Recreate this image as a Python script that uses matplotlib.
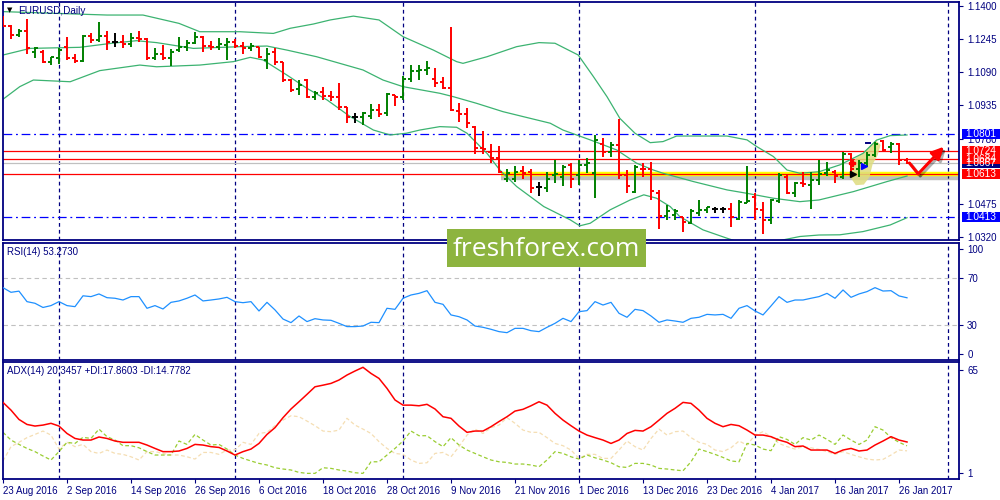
import matplotlib
matplotlib.use("Agg")
import matplotlib.pyplot as plt
import matplotlib.patheffects as pe
import matplotlib.transforms as mtransforms
from matplotlib.patches import Rectangle, Polygon
import numpy as np

plt.rcParams['font.family'] = ['Liberation Sans', 'DejaVu Sans']

# -----------------------------
# EURUSD daily bars (23 Aug 2016 .. 27 Jan 2017)
# -----------------------------
opens = [1.1340, 1.1306, 1.1264, 1.1285, 1.1186, 1.1186, 1.1139, 1.1155, 1.1210, 1.1155,
         1.1143, 1.1260, 1.1241, 1.1260, 1.1233, 1.1233, 1.1222, 1.1249, 1.1244, 1.1155,
         1.1175, 1.1155, 1.1194, 1.1207, 1.1228, 1.1253, 1.1213, 1.1210, 1.1217, 1.1233,
         1.1213, 1.1202, 1.1207, 1.1150, 1.1186, 1.1136, 1.1054, 1.1010, 1.1054, 1.0976,
         1.0999, 1.0979, 1.0976, 1.0926, 1.0879, 1.0879, 1.0885, 1.0913, 1.0898, 1.0983,
         1.0973, 1.1057, 1.1097, 1.1101, 1.1061, 1.1046, 1.1019, 1.0909, 1.0893, 1.0835,
         1.0737, 1.0718, 1.0687, 1.0593, 1.0593, 1.0628, 1.0625, 1.0555, 1.0547, 1.0609,
         1.0601, 1.0656, 1.0609, 1.0656, 1.0620, 1.0757, 1.0718, 1.0752, 1.0609, 1.0531,
         1.0640, 1.0640, 1.0527, 1.0418, 1.0423, 1.0412, 1.0386, 1.0431, 1.0446, 1.0449,
         1.0449, 1.0449, 1.0406, 1.0481, 1.0505, 1.0446, 1.0397, 1.0489, 1.0601, 1.0527,
         1.0573, 1.0563, 1.0587, 1.0617, 1.0625, 1.0601, 1.0710, 1.0640, 1.0664, 1.0703,
         1.0770, 1.0742, 1.0754, 1.0679]
highs = [1.1353, 1.1311, 1.1295, 1.1338, 1.1210, 1.1194, 1.1163, 1.1202, 1.1253, 1.1178,
         1.1264, 1.1272, 1.1327, 1.1283, 1.1272, 1.1264, 1.1275, 1.1283, 1.1252, 1.1202,
         1.1217, 1.1197, 1.1257, 1.1241, 1.1280, 1.1260, 1.1238, 1.1249, 1.1249, 1.1244,
         1.1233, 1.1225, 1.1210, 1.1202, 1.1202, 1.1139, 1.1061, 1.1054, 1.1057, 1.1004,
         1.1022, 1.1004, 1.1041, 1.0929, 1.0898, 1.0905, 1.0944, 1.0940, 1.0991, 1.0983,
         1.1072, 1.1124, 1.1124, 1.1143, 1.1108, 1.1069, 1.1303, 1.0948, 1.0924, 1.0838,
         1.0815, 1.0757, 1.0746, 1.0640, 1.0653, 1.0653, 1.0637, 1.0578, 1.0625, 1.0681,
         1.0656, 1.0664, 1.0681, 1.0687, 1.0796, 1.0784, 1.0765, 1.0874, 1.0632, 1.0656,
         1.0664, 1.0671, 1.0539, 1.0470, 1.0450, 1.0415, 1.0453, 1.0495, 1.0461, 1.0461,
         1.0461, 1.0480, 1.0492, 1.0653, 1.0524, 1.0484, 1.0497, 1.0617, 1.0614, 1.0578,
         1.0625, 1.0625, 1.0679, 1.0671, 1.0632, 1.0718, 1.0714, 1.0679, 1.0718, 1.0765,
         1.0773, 1.0765, 1.0760, 1.0687]
lows = [1.1303, 1.1244, 1.1257, 1.1178, 1.1155, 1.1132, 1.1124, 1.1129, 1.1150, 1.1135,
        1.1139, 1.1225, 1.1233, 1.1194, 1.1210, 1.1202, 1.1210, 1.1233, 1.1147, 1.1147,
        1.1147, 1.1119, 1.1186, 1.1191, 1.1221, 1.1186, 1.1194, 1.1194, 1.1147, 1.1202,
        1.1178, 1.1191, 1.1155, 1.1104, 1.1124, 1.1046, 1.0999, 1.0983, 1.0968, 1.0960,
        1.0960, 1.0955, 1.0913, 1.0854, 1.0854, 1.0843, 1.0874, 1.0879, 1.0885, 1.0932,
        1.0960, 1.1046, 1.1054, 1.1077, 1.1022, 1.1010, 1.0909, 1.0859, 1.0831, 1.0706,
        1.0710, 1.0664, 1.0617, 1.0578, 1.0578, 1.0590, 1.0524, 1.0512, 1.0531, 1.0570,
        1.0559, 1.0547, 1.0562, 1.0617, 1.0500, 1.0695, 1.0695, 1.0590, 1.0527, 1.0524,
        1.0602, 1.0492, 1.0359, 1.0400, 1.0400, 1.0345, 1.0380, 1.0418, 1.0431, 1.0431,
        1.0431, 1.0367, 1.0400, 1.0480, 1.0400, 1.0336, 1.0380, 1.0477, 1.0520, 1.0508,
        1.0555, 1.0449, 1.0562, 1.0604, 1.0573, 1.0593, 1.0601, 1.0601, 1.0648, 1.0695,
        1.0718, 1.0713, 1.0656, 1.0661]
closes = [1.1306, 1.1264, 1.1285, 1.1202, 1.1202, 1.1139, 1.1160, 1.1194, 1.1155, 1.1143,
          1.1260, 1.1241, 1.1260, 1.1233, 1.1233, 1.1222, 1.1249, 1.1244, 1.1155, 1.1175,
          1.1155, 1.1186, 1.1207, 1.1228, 1.1257, 1.1213, 1.1210, 1.1221, 1.1233, 1.1213,
          1.1202, 1.1213, 1.1163, 1.1178, 1.1139, 1.1054, 1.1007, 1.1030, 1.0973, 1.0991,
          1.0979, 1.0976, 1.0926, 1.0882, 1.0879, 1.0898, 1.0916, 1.0894, 1.0987, 1.0973,
          1.1057, 1.1097, 1.1101, 1.1108, 1.1041, 1.1019, 1.0913, 1.0893, 1.0851, 1.0737,
          1.0731, 1.0687, 1.0625, 1.0620, 1.0625, 1.0617, 1.0547, 1.0555, 1.0589, 1.0614,
          1.0648, 1.0589, 1.0656, 1.0667, 1.0773, 1.0718, 1.0749, 1.0609, 1.0558, 1.0648,
          1.0636, 1.0536, 1.0418, 1.0443, 1.0439, 1.0392, 1.0443, 1.0446, 1.0458, 1.0449,
          1.0449, 1.0415, 1.0484, 1.0487, 1.0449, 1.0400, 1.0492, 1.0609, 1.0527, 1.0570,
          1.0567, 1.0587, 1.0614, 1.0632, 1.0606, 1.0710, 1.0640, 1.0664, 1.0703, 1.0757,
          1.0726, 1.0754, 1.0679, 1.0667]

# Bollinger bands (20)
upper_x = [0, 13, 17.5, 22, 24.6, 29.6, 33.8, 35.9, 38.8, 40.9, 43.8, 47, 50, 53.8, 56.7,
           57.5, 60.5, 64.2, 67, 69, 71.9, 73.8, 75.5, 77.1, 79, 80.9, 82.5, 84.2, 90.5, 93,
           94.2, 96.3, 98, 99.6, 102, 104.6, 107.5, 109.2, 110.9, 113]
upper = [1.1374, 1.1358, 1.1358, 1.1319, 1.1280, 1.1280, 1.1272, 1.1296, 1.1316, 1.1335,
         1.1353, 1.1335, 1.1257, 1.1194, 1.1140, 1.1132, 1.1163, 1.1210, 1.1229, 1.1226,
         1.1171, 1.1070, 1.0976, 1.0875, 1.0805, 1.0761, 1.0766, 1.0792, 1.0792, 1.0774,
         1.0743, 1.0696, 1.0633, 1.0618, 1.0625, 1.0657, 1.0711, 1.0773, 1.0794, 1.0797]
mid_x = [0, 3.4, 9.6, 13.4, 16.7, 19.2, 23.8, 29.6, 33, 35.5, 39.2, 42.1, 45, 47.5, 50,
         54.6, 56.3, 59.2, 62.5, 65, 68.4, 70, 73.4, 76.7, 79.2, 81.3, 82.5, 86.3, 90.5,
         93, 96.3, 99.6, 102, 106.3, 110.5, 113]
mid = [1.1171, 1.1202, 1.1207, 1.1225, 1.1238, 1.1229, 1.1202, 1.1210, 1.1213, 1.1194,
       1.1163, 1.1132, 1.1101, 1.1054, 1.1023, 1.0992, 1.0976, 1.0945, 1.0906, 1.0883,
       1.0852, 1.0820, 1.0774, 1.0727, 1.0665, 1.0633, 1.0618, 1.0579, 1.0540, 1.0524,
       1.0501, 1.0485, 1.0493, 1.0532, 1.0579, 1.0605]
lower_x = [0, 2.1, 3.8, 8.4, 12.1, 17.1, 19.2, 24.6, 28.8, 30.9, 32.5, 35.5, 38, 40.5,
           43.4, 46.3, 48.4, 50.4, 52.1, 54.6, 56.7, 58, 60.5, 62.1, 64.2, 67.6, 70.9,
           72.1, 73.4, 75.9, 78.4, 80.1, 81.7, 83.4, 84.6, 87.5, 90.5, 93, 96.7, 99.6,
           102, 104.6, 107.5, 110.9, 113]
lower = [1.0964, 1.1023, 1.1054, 1.1046, 1.1098, 1.1124, 1.1116, 1.1124, 1.1140, 1.1160,
         1.1148, 1.1077, 1.1015, 1.0961, 1.0883, 1.0820, 1.0797, 1.0805, 1.0820, 1.0836,
         1.0833, 1.0805, 1.0711, 1.0633, 1.0556, 1.0462, 1.0400, 1.0372, 1.0384, 1.0447,
         1.0493, 1.0517, 1.0501, 1.0462, 1.0415, 1.0353, 1.0314, 1.0283, 1.0300, 1.0322,
         1.0329, 1.0330, 1.0345, 1.0376, 1.0410]

rsi = [62, 58, 59, 50, 48.6, 45, 46.6, 50, 46.6, 45.7, 55, 54.3, 56.6, 53.4, 52.9, 51.4,
       54.3, 54.3, 44.3, 46.6, 43.7, 49.4, 50.6, 52.9, 55.7, 50.6, 51.4, 52.3, 53.7, 50,
       49.1, 50, 42, 49.4, 42.9, 35.1, 32, 37.7, 32.9, 35.4, 34.3, 34, 31.4, 28.6, 28.6,
       29.1, 32.3, 32, 44.3, 43.4, 52.9, 55.7, 57.1, 59.4, 49.4, 47.7, 38.6, 37.1, 34.3,
       29.1, 28, 26.3, 24.3, 23.4, 27.1, 27.1, 25.1, 24.3, 28, 31.4, 35.7, 32.9, 41.4,
       42.3, 50, 47.1, 49.4, 40, 36.6, 43.4, 42.3, 37.7, 32.3, 34.3, 33.4, 32.3, 35.7,
       36.6, 39.1, 38.6, 39.1, 35.7, 44.3, 46.6, 42, 38.6, 46.3, 54.3, 49.4, 51.4, 51.4,
       52.9, 54.3, 57.1, 52.9, 60, 53.7, 56.6, 58.6, 62, 59.1, 59.4, 54.9, 53.3]

adx = [44.9, 40.1, 34.3, 31.2, 30.2, 30.8, 31.9, 30.2, 25.6, 22.5,
       21.5, 21.5, 23.4, 22.5, 20.9, 20.1, 20.1, 20.1, 18.4, 16.3,
       14.3, 14.3, 14.7, 16.3, 18.8, 18.4, 17.4, 16.9, 14.7, 12.2,
       14.3, 15.9, 19.4, 25, 29.2, 35.4, 40.8, 45.3, 49.9, 54.6,
       55.6, 56.7, 58.8, 61.9, 64.4, 66.7, 62.9, 59.8, 53.6, 46.4,
       43.2, 43.2, 42.8, 43.7, 40.8, 36, 35, 30.2, 26.3, 27.1,
       27.1, 29.8, 33, 36, 39.5, 40.6, 42.8, 45.3, 43.2, 38.1,
       33.9, 30.4, 27.1, 24.6, 23, 21.5, 19.4, 21.5, 25.6, 27.5,
       27.1, 29.8, 33.9, 38.1, 41.2, 44.9, 44.3, 40.1, 35, 31.9,
       29.8, 31.2, 30.4, 27.7, 24.6, 24.6, 23.6, 21.5, 20.1, 17.4,
       17.8, 15.3, 15.3, 15.3, 13.2, 15.3, 16.3, 14.7, 15.3, 18.4,
       20.9, 23.6, 21.5, 20.3]
plus_di = [26.3, 21.5, 18.8, 16.3, 14.3, 11.6, 9.1, 14.3, 20.1, 19.4,
           23.2, 22.5, 28.3, 23.6, 21.5, 18, 18, 16.7, 14.3, 12.2,
           12.2, 12.2, 20.9, 18.8, 25, 21.5, 18.4, 18.8, 15.9, 12.2,
           10.1, 8.5, 7, 6, 4.3, 3.5, 2.9, 1.4, 0.8, 0.8,
           4.3, 3.9, 2.9, 2.2, 1.2, 0.8, 8, 8, 12.2, 16.3,
           20.9, 27.1, 24.2, 24.2, 20.5, 17.4, 23, 18.4, 15.3, 13.2,
           11.1, 9.1, 8, 7.6, 6.6, 6.6, 6, 4.9, 9.1, 14.3,
           13.2, 11.1, 9.7, 12.2, 10.5, 9.1, 7.4, 4.9, 4.5, 7,
           7, 6, 3.9, 3.5, 2.9, 2.4, 8, 15.9, 14.3, 12.6,
           10.7, 8.5, 8, 19.4, 18.4, 15.9, 14.9, 23.6, 21.9, 18.8,
           23, 21.5, 24.6, 21.9, 18.8, 24.6, 21.5, 18.8, 21.5, 29.8,
           27.7, 23, 20.1, 17.9]
minus_di = [8.5, 17.4, 20.1, 23, 25, 27.1, 24.6, 15.9, 20.1, 17.4,
            18.8, 14.3, 13.2, 15.3, 13.2, 12.6, 11.1, 9.1, 14.3, 14.3,
            13.2, 12.2, 12.2, 11.1, 9.7, 13.8, 13.8, 12.6, 15.3, 15.3,
            20.1, 18.8, 25.6, 26.3, 30.4, 33.9, 36.6, 36, 33.3, 30.4,
            27.1, 26.7, 27.7, 35, 30.8, 28.3, 25.6, 20.5, 16.3, 13.2,
            12.6, 9.1, 7, 7.4, 13.2, 13.8, 11.1, 17.4, 24.6, 28.3,
            25.6, 29.2, 30.8, 35.4, 31.9, 27.7, 26.3, 26.3, 23, 19.4,
            18, 15.3, 10.1, 12.6, 12.6, 10.1, 10.1, 15.3, 20.9, 17.4,
            15.3, 22.5, 28.3, 24.6, 26.7, 27.1, 23, 20.1, 18.8, 15.3,
            14.3, 16.7, 20.9, 18.4, 24.6, 26.7, 23.6, 19.4, 17.4, 15.9,
            17.4, 16.7, 15.7, 14.3, 12.6, 14.3, 12.6, 11.1, 9.7, 9.1,
            9.5, 12.2, 15.3, 14.8]

date_labels = ['23 Aug 2016', '2 Sep 2016', '14 Sep 2016', '26 Sep 2016', '6 Oct 2016',
               '18 Oct 2016', '28 Oct 2016', '9 Nov 2016', '21 Nov 2016', '1 Dec 2016',
               '13 Dec 2016', '23 Dec 2016', '4 Jan 2017', '16 Jan 2017', '26 Jan 2017']
date_idx = list(range(0, 113, 8))
month_starts = [7, 29, 50, 72, 94, 118.1]

price_ticks = [1.1400, 1.1245, 1.1090, 1.0935, 1.0780, 1.0475, 1.0320]
# horizontal levels
levels_red = [1.0724, 1.0684, 1.0613]
levels_blue = [1.0801, 1.0413]
bid = 1.0667
level_boxes = [(1.0801, '#0000ff'), (1.0413, '#0000ff'), (1.0667, '#000080'),
               (1.0724, '#ff0000'), (1.0684, '#ff0000'), (1.0613, '#ff0000')]

NAVY = '#000080'
W, H = 1000, 500

def rect(l, t, r, b):
    return [l / W, 1 - b / H, (r - l) / W, (b - t) / H]

fig = plt.figure(figsize=(10, 5), dpi=100)
ax = fig.add_axes(rect(2.5, 2, 959.5, 239.5))
ax_rsi = fig.add_axes(rect(2.5, 242.5, 959.5, 359.5))
ax_adx = fig.add_axes(rect(2.5, 362, 959.5, 479))

x = np.arange(len(closes))
xlim = (-0.06, 119.56)

for a in (ax, ax_rsi, ax_adx):
    a.set_xlim(*xlim)
    for s in a.spines.values():
        s.set_color(NAVY)
        s.set_linewidth(1.3)
    a.yaxis.tick_right()
    a.tick_params(axis='y', colors=NAVY, labelsize=7, length=3, width=0.8, pad=2.5,
                  labelcolor=NAVY)
    for m in month_starts:
        a.axvline(m, color=NAVY, lw=0.9, ls=(0, (3, 2.5)), zorder=1)

# -----------------------------
# PRICE PANEL
# -----------------------------
ax.set_ylim(1.0308, 1.1419)
ax.set_xticks([])
ax.set_yticks(price_ticks)
ax.set_yticklabels([f'{p:.4f}' for p in price_ticks])

ax.plot(upper_x, upper, color='#3cb371', lw=0.9, zorder=2)
ax.plot(mid_x, mid, color='#3cb371', lw=0.9, zorder=2)
ax.plot(lower_x, lower, color='#3cb371', lw=0.9, zorder=2)

for p in levels_blue:
    ax.axhline(p, color='#0000ff', lw=0.9, ls=(0, (7, 3, 1.5, 3)), zorder=1)
ax.axhline(bid, color='#c0c0c0', lw=0.9, zorder=1)
# yellow highlight on the support
ax.plot([62.2, xlim[1]], [levels_red[2]] * 2, color='#ffff00', lw=3.2, zorder=1.5,
        solid_capstyle='butt',
        path_effects=[pe.SimpleLineShadow(offset=(0, -2.5), shadow_color='black', alpha=0.25),
                      pe.Normal()])
for p in levels_red:
    ax.axhline(p, color='#ff0000', lw=0.9, zorder=1.6)

# highlighted blob around the entry
blob = [(105.9, 1.0600), (106.0, 1.0650), (106.6, 1.0690), (107.5, 1.0712), (108.3, 1.0745),
        (109.1, 1.0772), (109.7, 1.0750), (109.3, 1.0700), (108.7, 1.0660), (108.3, 1.0600),
        (107.6, 1.0565), (106.6, 1.0562)]
ax.add_patch(Polygon(blob, closed=True, fc='#dedc7f', ec='none', alpha=0.85, zorder=1.7))

cols = ['#008000' if c > o else ('#ff0000' if c < o else '#000000')
        for o, c in zip(opens, closes)]
ax.vlines(x, lows, highs, colors=cols, lw=1.4, zorder=3)
ax.hlines(opens, x - 0.38, x, colors=cols, lw=1.4, zorder=3)
ax.hlines(closes, x, x + 0.38, colors=cols, lw=1.4, zorder=3)

# trade arrows inside the blob
ax.plot([106.1], [1.0666], marker='P', color='#ff0000', ms=5, zorder=4)
ax.plot([107.6], [1.0652], marker='>', color='#0000ff', ms=5, zorder=4)
ax.plot([106.2], [1.0614], marker='>', color='#000000', ms=4.5, zorder=4)
ax.plot([107.9, 108.4], [1.0759, 1.0759], color=NAVY, lw=1.4, zorder=4)

# forecast arrow
shadow = [pe.SimpleLineShadow(offset=(1.5, -1.5), shadow_color='black', alpha=0.3), pe.Normal()]
ax.plot([113.3, 114.4], [1.0666, 1.0615], color='#ff0000', lw=2.2, zorder=5,
        solid_capstyle='round', path_effects=shadow)
ax.annotate('', xy=(117.6, 1.0742), xytext=(114.4, 1.0615), zorder=5,
            arrowprops=dict(arrowstyle='-|>,head_length=0.7,head_width=0.35',
                            color='#ff0000', lw=2.2, shrinkA=0, shrinkB=0,
                            path_effects=shadow))

# price label boxes on the right axis
box_tr = mtransforms.blended_transform_factory(fig.transFigure, ax.transData)
half = 5 / 2139
for p, c in level_boxes:
    ax.add_patch(Rectangle((962 / W, p - half), 38 / W, 2 * half, transform=box_tr,
                           fc=c, ec='none', clip_on=False, zorder=6))
    ax.text(965 / W, p, f'{p:.4f}', transform=box_tr, color='white', fontsize=7.3,
            va='center', ha='left', clip_on=False, zorder=7)

fig.text(7 / W, 1 - 10.5 / H, '\u25bc', fontsize=5, color='#000000', va='center',
         family='DejaVu Sans')
fig.text(18 / W, 1 - 10.5 / H, 'EURUSD,Daily', fontsize=7.2, color=NAVY, va='center')

# -----------------------------
# RSI PANEL
# -----------------------------
ax_rsi.set_ylim(0.4, 100.7)
ax_rsi.set_xticks([])
ax_rsi.axhline(70, color='#c0c0c0', lw=0.8, ls=(0, (4, 3)), zorder=1)
ax_rsi.axhline(30, color='#c0c0c0', lw=0.8, ls=(0, (4, 3)), zorder=1)
ax_rsi.plot(x, rsi, color='#1e90ff', lw=0.9, zorder=3)
ax_rsi.set_yticks([5.5, 30, 70, 95])
ax_rsi.set_yticklabels(['0', '30', '70', '100'])
ax_rsi.text(5 / 957, 1 - 9.5 / 117, 'RSI(14) 53.2730', transform=ax_rsi.transAxes,
            fontsize=7, color=NAVY, va='center')

# -----------------------------
# ADX PANEL
# -----------------------------
ax_adx.set_ylim(-2.7, 70)
ax_adx.plot(x, minus_di, color='#f5deb3', lw=0.9, ls=(0, (3, 2)), zorder=2)
ax_adx.plot(x, plus_di, color='#9acd32', lw=0.9, ls=(0, (3, 2)), zorder=2)
ax_adx.plot(x, adx, color='#ff0000', lw=1.1, zorder=3)
ax_adx.set_yticks([1, 65])
ax_adx.set_yticklabels(['1', '65'])
ax_adx.text(5 / 957, 1 - 9 / 117, 'ADX(14) 20.3457 +DI:17.8603 -DI:14.7782',
            transform=ax_adx.transAxes, fontsize=7, color=NAVY, va='center')
ax_adx.set_xticks(date_idx)
ax_adx.set_xticklabels(date_labels, ha='left')
ax_adx.tick_params(axis='x', colors=NAVY, labelsize=7, length=3, width=0.8, pad=2,
                   labelcolor=NAVY)

# watermark
fig.add_artist(Rectangle((447 / W, 1 - 267 / H), 199 / W, 38 / H, transform=fig.transFigure,
                         fc='#8db43f', ec='none'))
fig.text(546 / W, 1 - 249 / H, 'freshforex.com', fontsize=19, color='white',
         ha='center', va='center', family=['Open Sans', 'DejaVu Sans'])

fig.savefig('out.png', dpi=100)
